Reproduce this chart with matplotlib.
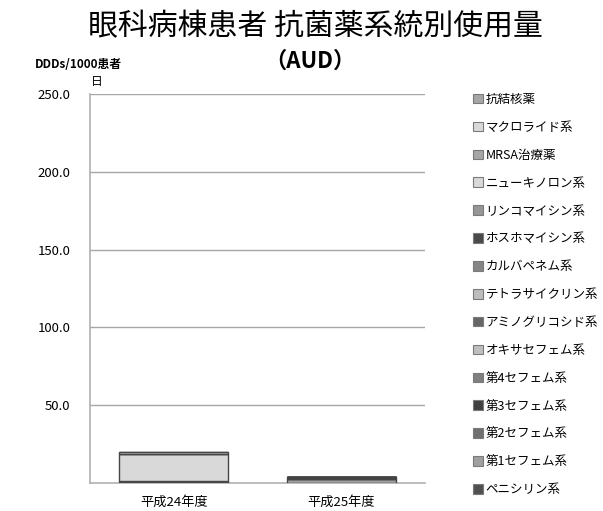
import numpy as np
import matplotlib
matplotlib.use("Agg")
import matplotlib.pyplot as plt
from matplotlib.patches import Patch

plt.rcParams['font.family'] = ['Noto Sans CJK JP', 'DejaVu Sans']

years = ['平成24年度', '平成25年度']

# series in stacking order (bottom first)
drugs = ['ペニシリン系', '第1セフェム系', '第2セフェム系', '第3セフェム系', '第4セフェム系',
         'オキサセフェム系', 'アミノグリコシド系', 'テトラサイクリン系', 'カルバペネム系',
         'ホスホマイシン系', 'リンコマイシン系', 'ニューキノロン系', 'MRSA治療薬',
         'マクロライド系', '抗結核薬']
colors = ['#505050', '#a0a0a0', '#707070', '#404040', '#808080',
          '#bfbfbf', '#666666', '#bdbdbd', '#858585',
          '#4a4a4a', '#969696', '#d9d9d9', '#a6a6a6',
          '#d9d9d9', '#a6a6a6']

usage = {
    'ペニシリン系':     [0.0, 0.0],
    '第1セフェム系':    [1.3, 2.4],
    '第2セフェム系':    [0.0, 0.0],
    '第3セフェム系':    [0.0, 1.6],
    '第4セフェム系':    [0.0, 0.0],
    'オキサセフェム系': [0.0, 0.0],
    'アミノグリコシド系': [0.0, 0.0],
    'テトラサイクリン系': [0.0, 0.0],
    'カルバペネム系':   [0.0, 0.0],
    'ホスホマイシン系': [0.0, 0.0],
    'リンコマイシン系': [0.0, 0.0],
    'ニューキノロン系': [17.6, 0.0],
    'MRSA治療薬':       [0.0, 0.0],
    'マクロライド系':   [1.1, 0.0],
    '抗結核薬':         [0.0, 0.0],
}

fig = plt.figure(figsize=(6.03, 5.11), dpi=100)
ax = fig.add_axes([90/603, 28/511, 335/603, 389/511])

x = np.arange(len(years))
bottom = np.zeros(len(years))
for name, c in zip(drugs, colors):
    vals = np.array(usage[name])
    ax.bar(x, vals, 0.65, bottom=bottom, color=c, edgecolor='#454545', linewidth=1.0, zorder=3)
    bottom += vals

ax.set_xlim(-0.5, 1.5)
ax.set_ylim(0, 250)
ax.set_yticks([50, 100, 150, 200, 250])
ax.set_yticklabels(['50.0', '100.0', '150.0', '200.0', '250.0'], fontsize=9.5)
ax.set_xticks(x)
ax.set_xticklabels(years, fontsize=9.5)
ax.tick_params(axis='y', length=0, pad=14)
ax.tick_params(axis='x', length=0, pad=9)
ax.yaxis.grid(True, color='#a6a6a6', linewidth=1)
ax.set_axisbelow(True)
for s in ['top', 'right']:
    ax.spines[s].set_visible(False)
for s in ['left', 'bottom']:
    ax.spines[s].set_color('#b0b0b0')
    ax.spines[s].set_linewidth(1.2)

fig.text(315/603, 1 - 27/511, '眼科病棟患者 抗菌薬系統別使用量', ha='center', va='center', fontsize=21.5)
fig.text(310/603, 1 - 61/511, '（AUD）', ha='center', va='center', fontsize=16, fontweight='bold')
fig.text(35/603, 1 - 64/511, 'DDDs/1000患者', ha='left', va='center', fontsize=8.5, fontweight='bold')
fig.text(97/603, 1 - 82/511, '日', ha='center', va='center', fontsize=8.5)

handles = [Patch(facecolor=c, edgecolor='#7a7a7a', linewidth=0.8, label=n)
           for n, c in zip(drugs, colors)][::-1]
fig.legend(handles=handles, loc='upper left', bbox_to_anchor=(473/603, 1 - 93/511),
           frameon=False, fontsize=9, handlelength=0.8, handleheight=0.8,
           handletextpad=0.2, labelspacing=1.19, borderaxespad=0, borderpad=0)

fig.savefig('out.png', dpi=100)
